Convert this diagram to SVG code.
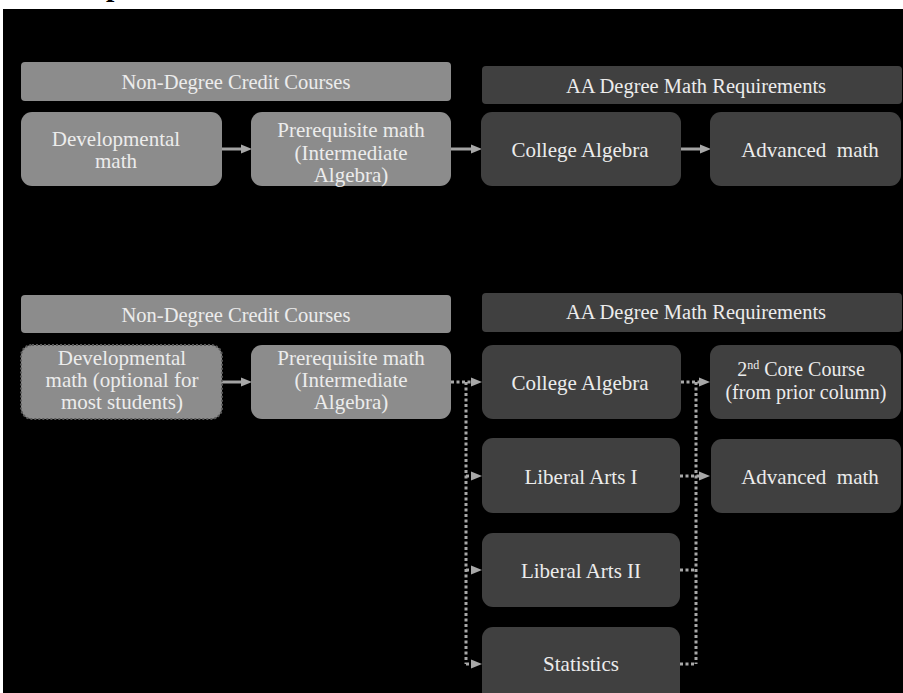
<svg xmlns="http://www.w3.org/2000/svg" width="903" height="693" viewBox="0 0 903 693">
<defs>
<style>
.bg{fill:#000}
.lg{fill:#8c8c8c}
.dk{fill:#404040}
.hd{fill:#8c8c8c}
.hdk{fill:#404040}
text{font-family:"Liberation Serif","Times New Roman",serif;fill:#ececec;text-anchor:middle}
.h{font-size:20.5px}
.b{font-size:21px}
.solid{stroke:#a3a3a3;stroke-width:3;fill:none}
.dot{stroke:#a8a8a8;stroke-width:3;fill:none;stroke-dasharray:3 2.5}
.ah{fill:#a8a8a8}
</style>
</defs>
<rect x="0" y="0" width="903" height="693" fill="#fff"/>
<text x="106" y="-4" style="font-size:30px;font-weight:bold;fill:#000;text-anchor:start">p</text>
<rect class="bg" x="3" y="9" width="900" height="684"/>

<g id="connectors">
<line class="solid" x1="222" y1="149" x2="242" y2="149"/>
<polygon class="ah" points="241,144.5 252,149 241,153.5"/>
<line class="solid" x1="451" y1="149" x2="472" y2="149"/>
<polygon class="ah" points="471,144.5 482,149 471,153.5"/>
<line class="solid" x1="681" y1="149" x2="701" y2="149"/>
<polygon class="ah" points="700,144.5 711,149 700,153.5"/>

<line class="solid" x1="222" y1="382" x2="242" y2="382"/>
<polygon class="ah" points="241,377.5 252,382 241,386.5"/>

<path class="dot" d="M451,382 H471 M466,382 V664 M466,476 H471 M466,570 H471 M466,664 H471"/>
<polygon class="ah" points="471,377.5 482,382 471,386.5"/>
<polygon class="ah" points="471,471.5 482,476 471,480.5"/>
<polygon class="ah" points="471,565.5 482,570 471,574.5"/>
<polygon class="ah" points="471,659.5 482,664 471,668.5"/>

<path class="dot" d="M681,382 H700 M696,382 V664 M680,476 H700 M680,570 H696 M680,664 H696"/>
<polygon class="ah" points="699,377.5 710,382 699,386.5"/>
<polygon class="ah" points="699,471.5 710,476 699,480.5"/>
</g>

<g id="hdr-nondeg-1"><rect class="hd" x="21" y="62" width="430" height="39" rx="4"/><text class="h" x="236" y="89">Non-Degree Credit Courses</text></g>
<g id="hdr-aa-1"><rect class="hdk" x="482" y="66" width="420" height="38" rx="4"/><text class="h" x="696" y="93">AA Degree Math Requirements</text></g>
<g id="dev-1"><rect class="lg" x="21" y="112" width="201" height="74" rx="11"/><text class="b" x="116" y="146">Developmental</text><text class="b" x="116" y="168">math</text></g>
<g id="prereq-1"><rect class="lg" x="251" y="112" width="200" height="74" rx="11"/><text class="b" x="351" y="137">Prerequisite math</text><text class="b" x="351" y="160">(Intermediate</text><text class="b" x="351" y="182">Algebra)</text></g>
<g id="colalg-1"><rect class="dk" x="481" y="112" width="200" height="74" rx="11"/><text class="b" x="580" y="157">College Algebra</text></g>
<g id="adv-1"><rect class="dk" x="710" y="112" width="191" height="74" rx="11"/><text class="b" x="810" y="157" xml:space="preserve">Advanced  math</text></g>

<g id="hdr-nondeg-2"><rect class="hd" x="21" y="295" width="430" height="38" rx="4"/><text class="h" x="236" y="322">Non-Degree Credit Courses</text></g>
<g id="hdr-aa-2"><rect class="hdk" x="482" y="293" width="420" height="39" rx="4"/><text class="h" x="696" y="319">AA Degree Math Requirements</text></g>
<g id="dev-2"><rect class="lg" x="21" y="345" width="201" height="74" rx="11" stroke="#5a5a5a" stroke-width="2" stroke-dasharray="2 2"/><text class="b" x="122" y="365">Developmental</text><text class="b" x="122" y="387">math (optional for</text><text class="b" x="122" y="409">most students)</text></g>
<g id="prereq-2"><rect class="lg" x="251" y="345" width="200" height="74" rx="11"/><text class="b" x="351" y="365">Prerequisite math</text><text class="b" x="351" y="387">(Intermediate</text><text class="b" x="351" y="409">Algebra)</text></g>
<g id="colalg-2"><rect class="dk" x="482" y="345" width="199" height="74" rx="11"/><text class="b" x="580" y="390">College Algebra</text></g>
<g id="core2"><rect class="dk" x="710" y="345" width="191" height="74" rx="11"/><text style="font-size:20px" x="801" y="376">2<tspan dy="-7" style="font-size:12px">nd</tspan><tspan dy="7"> Core Course</tspan></text><text style="font-size:20px" x="806" y="399">(from prior column)</text></g>
<g id="libarts1"><rect class="dk" x="482" y="438" width="198" height="75" rx="11"/><text class="b" x="581" y="484">Liberal Arts I</text></g>
<g id="adv-2"><rect class="dk" x="711" y="439" width="190" height="74" rx="11"/><text class="b" x="810" y="484" xml:space="preserve">Advanced  math</text></g>
<g id="libarts2"><rect class="dk" x="482" y="533" width="198" height="74" rx="11"/><text class="b" x="581" y="578">Liberal Arts II</text></g>
<g id="stats"><rect class="dk" x="482" y="627" width="198" height="80" rx="11"/><text class="b" x="581" y="671">Statistics</text></g>
</svg>
